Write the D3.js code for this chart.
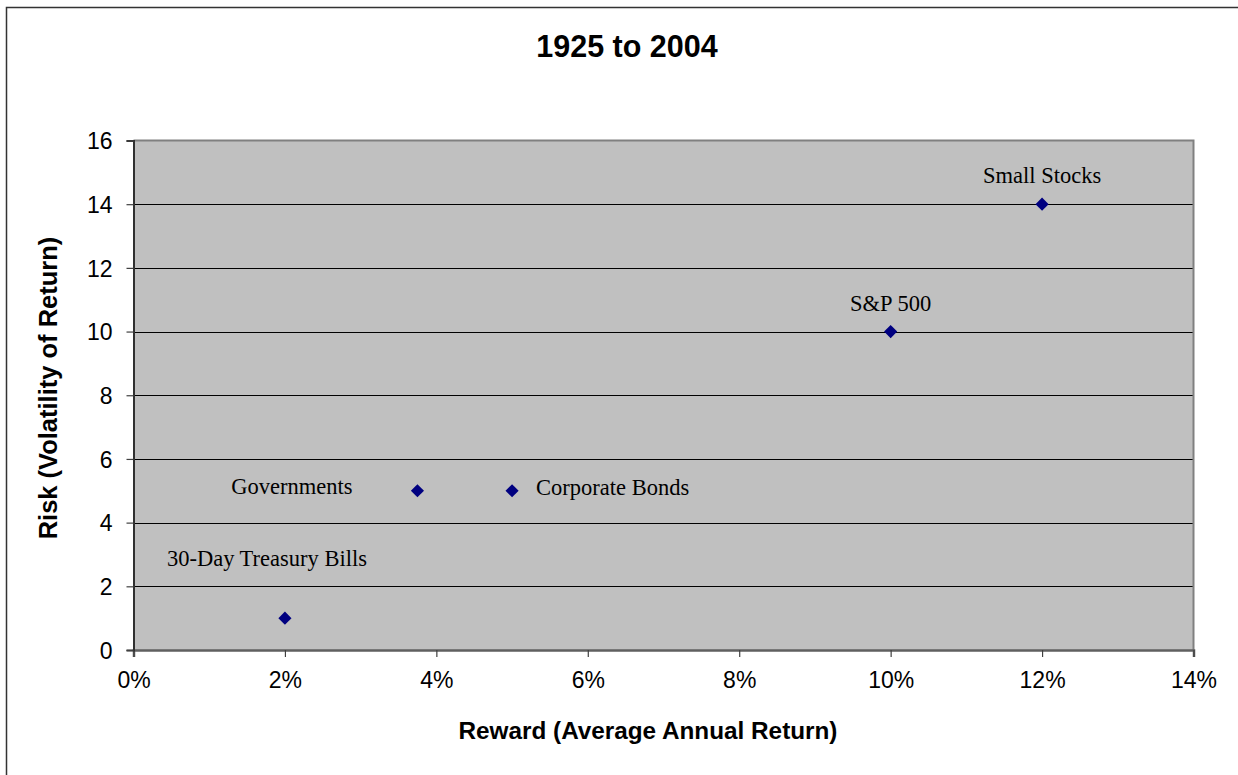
<!DOCTYPE html>
<html>
<head>
<meta charset="utf-8">
<script src="https://cdn.jsdelivr.net/npm/d3@7"></script>
<style>
  body { margin: 0; background: #fff; }
  svg { display: block; }
  .tick-label { font-family: Arial, "Liberation Sans", sans-serif; font-size: 23px; fill: #000; }
  .axis-title { font-family: Arial, "Liberation Sans", sans-serif; font-size: 24.3px; font-weight: bold; fill: #000; }
  .y-title { font-size: 25.5px; }
  .chart-title { font-family: Arial, "Liberation Sans", sans-serif; font-size: 30.5px; font-weight: bold; fill: #000; }
  .point-label { font-family: "Times New Roman", "Liberation Serif", serif; font-size: 22.5px; fill: #000; }
</style>
</head>
<body>
<div id="chart"></div>
<script>
// chart data
const assetNames = ["30-Day Treasury Bills", "Governments", "Corporate Bonds", "S&P 500", "Small Stocks"];
const rewardValues = [0.02, 0.0375, 0.05, 0.10, 0.12];   // average annual return
const riskValues = [1, 5, 5, 10, 14];                     // volatility of return
const xTicks = [0, 0.02, 0.04, 0.06, 0.08, 0.10, 0.12, 0.14];
const yTicks = [0, 2, 4, 6, 8, 10, 12, 14, 16];

// label placement relative to each point (dx, dy, anchor)
const labelOffsets = [
  { dx: -18, dy: -52, anchor: "middle" },
  { dx: -65, dy: 3, anchor: "end" },
  { dx: 24, dy: 4, anchor: "start" },
  { dx: 0, dy: -21, anchor: "middle" },
  { dx: 0, dy: -21, anchor: "middle" }
];

const width = 1238;
const height = 775;
const plot = { left: 133.5, right: 1193.5, top: 140.5, bottom: 650 };

const x = d3.scaleLinear().domain([0, 0.14]).range([plot.left, plot.right]);
const y = d3.scaleLinear().domain([0, 16]).range([plot.bottom, plot.top]);

const svg = d3.select("#chart").append("svg")
  .attr("width", width)
  .attr("height", height);

// outer chart border (runs off the right/bottom edges)
svg.append("rect")
  .attr("x", 6.5).attr("y", 7.5)
  .attr("width", 1260).attr("height", 800)
  .attr("fill", "#fff")
  .attr("stroke", "#333").attr("stroke-width", 1.5);

// plot background
svg.append("rect")
  .attr("x", plot.left).attr("y", plot.top)
  .attr("width", plot.right - plot.left)
  .attr("height", plot.bottom - plot.top)
  .attr("fill", "#c0c0c0");

// horizontal gridlines
svg.append("g")
  .selectAll("line")
  .data(yTicks.filter(d => d > 0 && d < 16))
  .join("line")
  .attr("x1", plot.left).attr("x2", plot.right)
  .attr("y1", d => Math.round(y(d)) + 0.5)
  .attr("y2", d => Math.round(y(d)) + 0.5)
  .attr("stroke", "#000").attr("stroke-width", 1);

// top and right plot border
svg.append("path")
  .attr("d", `M${plot.left},${plot.top}H${plot.right}V${plot.bottom}`)
  .attr("fill", "none")
  .attr("stroke", "#808080").attr("stroke-width", 2);

// axes
const yAxis = d3.axisLeft(y)
  .tickValues(yTicks)
  .tickSize(7)
  .tickPadding(14)
  .tickFormat(d3.format("d"));

const xAxis = d3.axisBottom(x)
  .tickValues(xTicks)
  .tickSize(7)
  .tickPadding(14)
  .tickFormat(d3.format(".0%"));

const gx = svg.append("g")
  .attr("transform", `translate(0,${plot.bottom})`)
  .call(xAxis);
gx.select(".domain").attr("stroke", "#606060").attr("stroke-width", 2.5);
gx.selectAll(".tick line").attr("stroke", "#404040").attr("stroke-width", 1.2);
gx.selectAll(".tick text").attr("class", "tick-label").attr("dy", "0.75em");

const gy = svg.append("g")
  .attr("transform", `translate(${plot.left},0)`)
  .call(yAxis);
gy.select(".domain").attr("stroke", "#303030").attr("stroke-width", 2);
gy.selectAll(".tick line").attr("stroke", "#404040").attr("stroke-width", 1.2);
gy.selectAll(".tick text").attr("class", "tick-label").attr("dy", "0.36em");

// points
const points = assetNames.map((name, i) => ({
  name,
  reward: rewardValues[i],
  risk: riskValues[i],
  offset: labelOffsets[i]
}));

svg.append("g")
  .selectAll("path")
  .data(points)
  .join("path")
  .attr("transform", d => `translate(${x(d.reward)},${y(d.risk)})`)
  .attr("d", d3.symbol(d3.symbolDiamond2, 110))
  .attr("fill", "#000080");

svg.append("g")
  .selectAll("text")
  .data(points)
  .join("text")
  .attr("class", "point-label")
  .attr("x", d => x(d.reward) + d.offset.dx)
  .attr("y", d => y(d.risk) + d.offset.dy)
  .attr("text-anchor", d => d.offset.anchor)
  .text(d => d.name);

// titles
svg.append("text")
  .attr("class", "chart-title")
  .attr("x", 627).attr("y", 57)
  .attr("text-anchor", "middle")
  .text("1925 to 2004");

svg.append("text")
  .attr("class", "axis-title")
  .attr("x", 648).attr("y", 739)
  .attr("text-anchor", "middle")
  .text("Reward (Average Annual Return)");

svg.append("text")
  .attr("class", "axis-title y-title")
  .attr("transform", "translate(57,388) rotate(-90)")
  .attr("text-anchor", "middle")
  .text("Risk (Volatility of Return)");
</script>
</body>
</html>
